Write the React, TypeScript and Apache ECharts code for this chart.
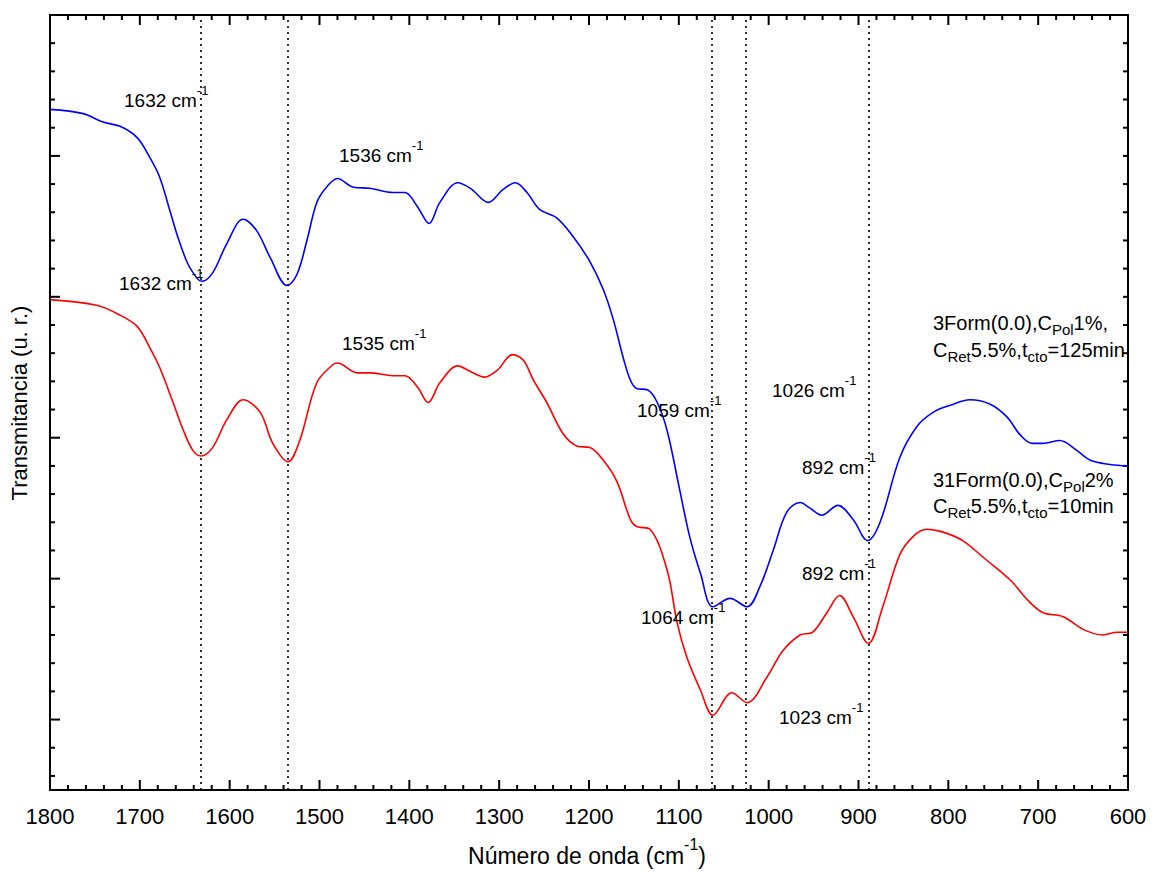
import React, { useEffect, useRef } from "react";
import * as echarts from "echarts";

// Wavenumbers (cm-1) and transmittance (u. r.)
const wnBlue = [1800, 1763, 1741, 1722, 1703, 1689, 1678, 1666, 1659, 1647, 1636, 1631, 1619, 1603, 1585, 1570, 1555, 1536, 1525, 1514, 1503, 1492, 1480, 1463, 1444, 1418, 1405, 1391, 1378, 1366, 1346, 1332, 1312, 1296, 1282, 1269, 1255, 1236, 1218, 1199, 1184, 1173, 1162, 1154, 1147, 1135, 1124, 1113, 1100, 1088, 1076, 1062, 1043, 1024, 1010, 995, 980, 965, 954, 941, 923, 906, 890, 876, 854, 835, 817, 798, 776, 754, 735, 720, 707, 695, 676, 657, 642, 620, 600];
const tBlue = [48.3, 48.0, 47.4, 47.1, 46.3, 44.9, 43.5, 41.0, 39.5, 37.4, 36.3, 36.1, 36.7, 38.8, 40.5, 39.7, 37.8, 35.8, 36.6, 39.0, 41.7, 42.8, 43.4, 42.8, 42.7, 42.4, 42.4, 41.4, 40.2, 41.7, 43.1, 42.7, 41.7, 42.6, 43.1, 42.4, 41.2, 40.6, 39.3, 37.5, 35.5, 33.4, 30.7, 29.1, 28.5, 28.4, 27.5, 25.5, 21.6, 18.0, 15.4, 13.0, 13.6, 13.0, 14.4, 17.0, 19.7, 20.4, 20.0, 19.5, 20.2, 19.2, 17.7, 19.0, 23.6, 25.8, 26.8, 27.3, 27.7, 27.4, 26.5, 25.2, 24.6, 24.6, 24.8, 24.1, 23.4, 23.1, 23.0];

const wnRed = [1800, 1748, 1722, 1703, 1689, 1678, 1663, 1652, 1641, 1632, 1619, 1603, 1585, 1566, 1552, 1535, 1522, 1503, 1485, 1480, 1458, 1444, 1418, 1405, 1391, 1379, 1366, 1346, 1332, 1316, 1302, 1285, 1273, 1262, 1247, 1229, 1213, 1199, 1184, 1169, 1154, 1147, 1132, 1113, 1102, 1091, 1076, 1062, 1041, 1024, 1002, 984, 965, 951, 935, 921, 906, 889, 873, 854, 839, 824, 806, 784, 761, 731, 712, 695, 672, 650, 628, 612, 600];
const tRed = [34.8, 34.4, 33.7, 32.9, 31.4, 30.0, 27.5, 25.6, 24.1, 23.7, 24.3, 26.3, 27.7, 26.8, 24.6, 23.3, 24.8, 28.9, 30.2, 30.3, 29.6, 29.6, 29.4, 29.4, 28.6, 27.5, 28.9, 30.1, 29.7, 29.3, 29.8, 30.9, 30.5, 29.1, 27.5, 25.3, 24.4, 24.3, 23.4, 21.9, 19.2, 18.7, 18.5, 15.6, 11.9, 9.4, 7.1, 5.3, 6.9, 6.2, 8.0, 9.9, 11.0, 11.2, 12.6, 13.8, 12.3, 10.4, 13.0, 16.7, 18.0, 18.5, 18.3, 17.7, 16.5, 14.9, 13.5, 12.6, 12.3, 11.4, 11.0, 11.2, 11.2];

const guideLines = [1632, 1535, 1063, 1025, 889];

// Axis tick positions (x: major every 100, minor every 20; y: arbitrary units, major every 10, minor every 2)
const xMajorTicks = [600, 700, 800, 900, 1000, 1100, 1200, 1300, 1400, 1500, 1600, 1700, 1800];
const yMajorTicks = [5, 15, 25, 35, 45, 55];

const FONT = "'Liberation Sans', Arial, Helvetica, sans-serif";

type Seg = [string, "n" | "sup" | "sub"];

const App: React.FC = () => {
  const ref = useRef<HTMLDivElement>(null);

  useEffect(() => {
    document.body.style.margin = "0";
    if (!ref.current) return;
    const chart = echarts.init(ref.current, undefined, { renderer: "svg" });

    const zip = (xs: number[], ys: number[]) => xs.map((x, i) => [x, ys[i]]);

    const xMinorTicks: number[] = [];
    for (let v = 620; v < 1800; v += 20) if (v % 100 !== 0) xMinorTicks.push(v);
    const yMinorTicks: number[] = [];
    for (let v = 1; v < 55; v += 2) if (!yMajorTicks.includes(v)) yMinorTicks.push(v);

    const xTickData = [...xMajorTicks.map((v) => [v, 10]), ...xMinorTicks.map((v) => [v, 5])];
    const yTickData = [...yMajorTicks.map((v) => [1800, v, 10]), ...yMinorTicks.map((v) => [1800, v, 5])];

    const ctx = document.createElement("canvas").getContext("2d") as CanvasRenderingContext2D;
    const measure = (t: string, fs: number) => {
      ctx.font = `${fs}px ${FONT}`;
      return ctx.measureText(t).width;
    };

    // a line of text with super/subscripts laid out as plain text pieces
    const line = (segs: Seg[], x: number, yMid: number, fs: number, center = false) => {
      const sizes = segs.map(([, k]) => (k === "n" ? fs : k === "sup" ? Math.round(fs * 0.68) : Math.round(fs * 0.74)));
      const widths = segs.map(([t], i) => measure(t, sizes[i]));
      const total = widths.reduce((a, b) => a + b, 0);
      let cx = center ? x - total / 2 : x;
      const els: any[] = [];
      segs.forEach(([t, k], i) => {
        const dy = k === "n" ? 0 : k === "sup" ? -fs * 0.5 : fs * 0.32;
        els.push({
          type: "text",
          x: cx,
          y: yMid + dy,
          z: 100,
          silent: true,
          style: { text: t, fontSize: sizes[i], fontFamily: FONT, fill: "#000", align: "left", verticalAlign: "middle" },
        });
        cx += widths[i];
      });
      return els;
    };

    const cm = (num: string, x: number, y: number) => line([[num + " cm", "n"], ["-1", "sup"]], x, y, 19);

    const tickFill = { fill: "#000" };

    chart.setOption({
      animation: false,
      grid: {
        left: 50,
        right: 24,
        top: 15,
        bottom: 83,
        containLabel: false,
        outerBoundsMode: "none",
        show: true,
        borderColor: "#000",
        borderWidth: 2,
        backgroundColor: "transparent",
      },
      xAxis: {
        type: "value",
        min: 600,
        max: 1800,
        interval: 100,
        inverse: true,
        position: "bottom",
        splitLine: { show: false },
        axisLine: { show: true, onZero: false, lineStyle: { color: "#000", width: 2 } },
        axisTick: { show: false },
        axisLabel: { show: true, fontSize: 22, fontFamily: FONT, color: "#000", margin: 15, formatter: (v: number) => String(v) },
      },
      yAxis: {
        type: "value",
        min: 0,
        max: 55,
        position: "left",
        splitLine: { show: false },
        axisLabel: { show: false },
        axisTick: { show: false },
        axisLine: { show: true, onZero: false, lineStyle: { color: "#000", width: 2 } },
      },
      series: [
        {
          type: "line",
          data: zip(wnBlue, tBlue),
          smooth: 0.35,
          symbol: "none",
          lineStyle: { color: "#0000ff", width: 1.6 },
          markLine: {
            silent: true,
            symbol: ["none", "none"],
            label: { show: false },
            lineStyle: { color: "#000", type: [2, 4], width: 1.6 },
            data: guideLines.map((v) => ({ xAxis: v })),
          },
        },
        {
          type: "line",
          data: zip(wnRed, tRed),
          smooth: 0.35,
          symbol: "none",
          lineStyle: { color: "#ff0000", width: 1.6 },
        },
        {
          type: "custom",
          silent: true,
          data: xTickData,
          encode: { x: 0 },
          renderItem: (params: any, api: any) => {
            const cs = params.coordSys;
            const x = api.coord([api.value(0), 0])[0];
            const len = api.value(1);
            const yb = cs.y + cs.height;
            return {
              type: "group",
              children: [
                { type: "rect", shape: { x: x - 1, y: yb - len, width: 2, height: len }, style: tickFill },
                { type: "rect", shape: { x: x - 1, y: cs.y, width: 2, height: len }, style: tickFill },
              ],
            };
          },
        },
        {
          type: "custom",
          silent: true,
          data: yTickData,
          encode: { x: 0, y: 1 },
          renderItem: (params: any, api: any) => {
            const cs = params.coordSys;
            const y = api.coord([1800, api.value(1)])[1];
            const len = api.value(2);
            const xr = cs.x + cs.width;
            return {
              type: "group",
              children: [
                { type: "rect", shape: { x: cs.x, y: y - 1, width: len, height: 2 }, style: tickFill },
                { type: "rect", shape: { x: xr - 5, y: y - 1, width: 5, height: 2 }, style: tickFill },
              ],
            };
          },
        },
      ],
      graphic: [
        ...cm("1632", 124, 100),
        ...cm("1632", 119, 283),
        ...cm("1536", 339, 155),
        ...cm("1535", 342, 343),
        ...cm("1059", 637, 410),
        ...cm("1026", 772, 390),
        ...cm("892", 802, 467),
        ...cm("892", 802, 573),
        ...cm("1064", 641, 617),
        ...cm("1023", 779, 717),
        ...line([["3Form(0.0),C", "n"], ["Pol", "sub"], ["1%,", "n"]], 933, 323, 20),
        ...line([["C", "n"], ["Ret", "sub"], ["5.5%,t", "n"], ["cto", "sub"], ["=125min", "n"]], 933, 350, 20),
        ...line([["31Form(0.0),C", "n"], ["Pol", "sub"], ["2%", "n"]], 933, 480, 20),
        ...line([["C", "n"], ["Ret", "sub"], ["5.5%,t", "n"], ["cto", "sub"], ["=10min", "n"]], 933, 506, 20),
        ...line([["Número de onda (cm", "n"], ["-1", "sup"], [")", "n"]], 587, 856, 23, true),
        {
          type: "text",
          x: 19,
          y: 403,
          rotation: Math.PI / 2,
          z: 100,
          silent: true,
          style: { text: "Transmitancia (u. r.)", fontSize: 22, fontFamily: FONT, fill: "#000", align: "center", verticalAlign: "middle" },
        },
      ],
    });

    return () => chart.dispose();
  }, []);

  return <div ref={ref} style={{ width: 1152, height: 873 }} />;
};

export default App;
